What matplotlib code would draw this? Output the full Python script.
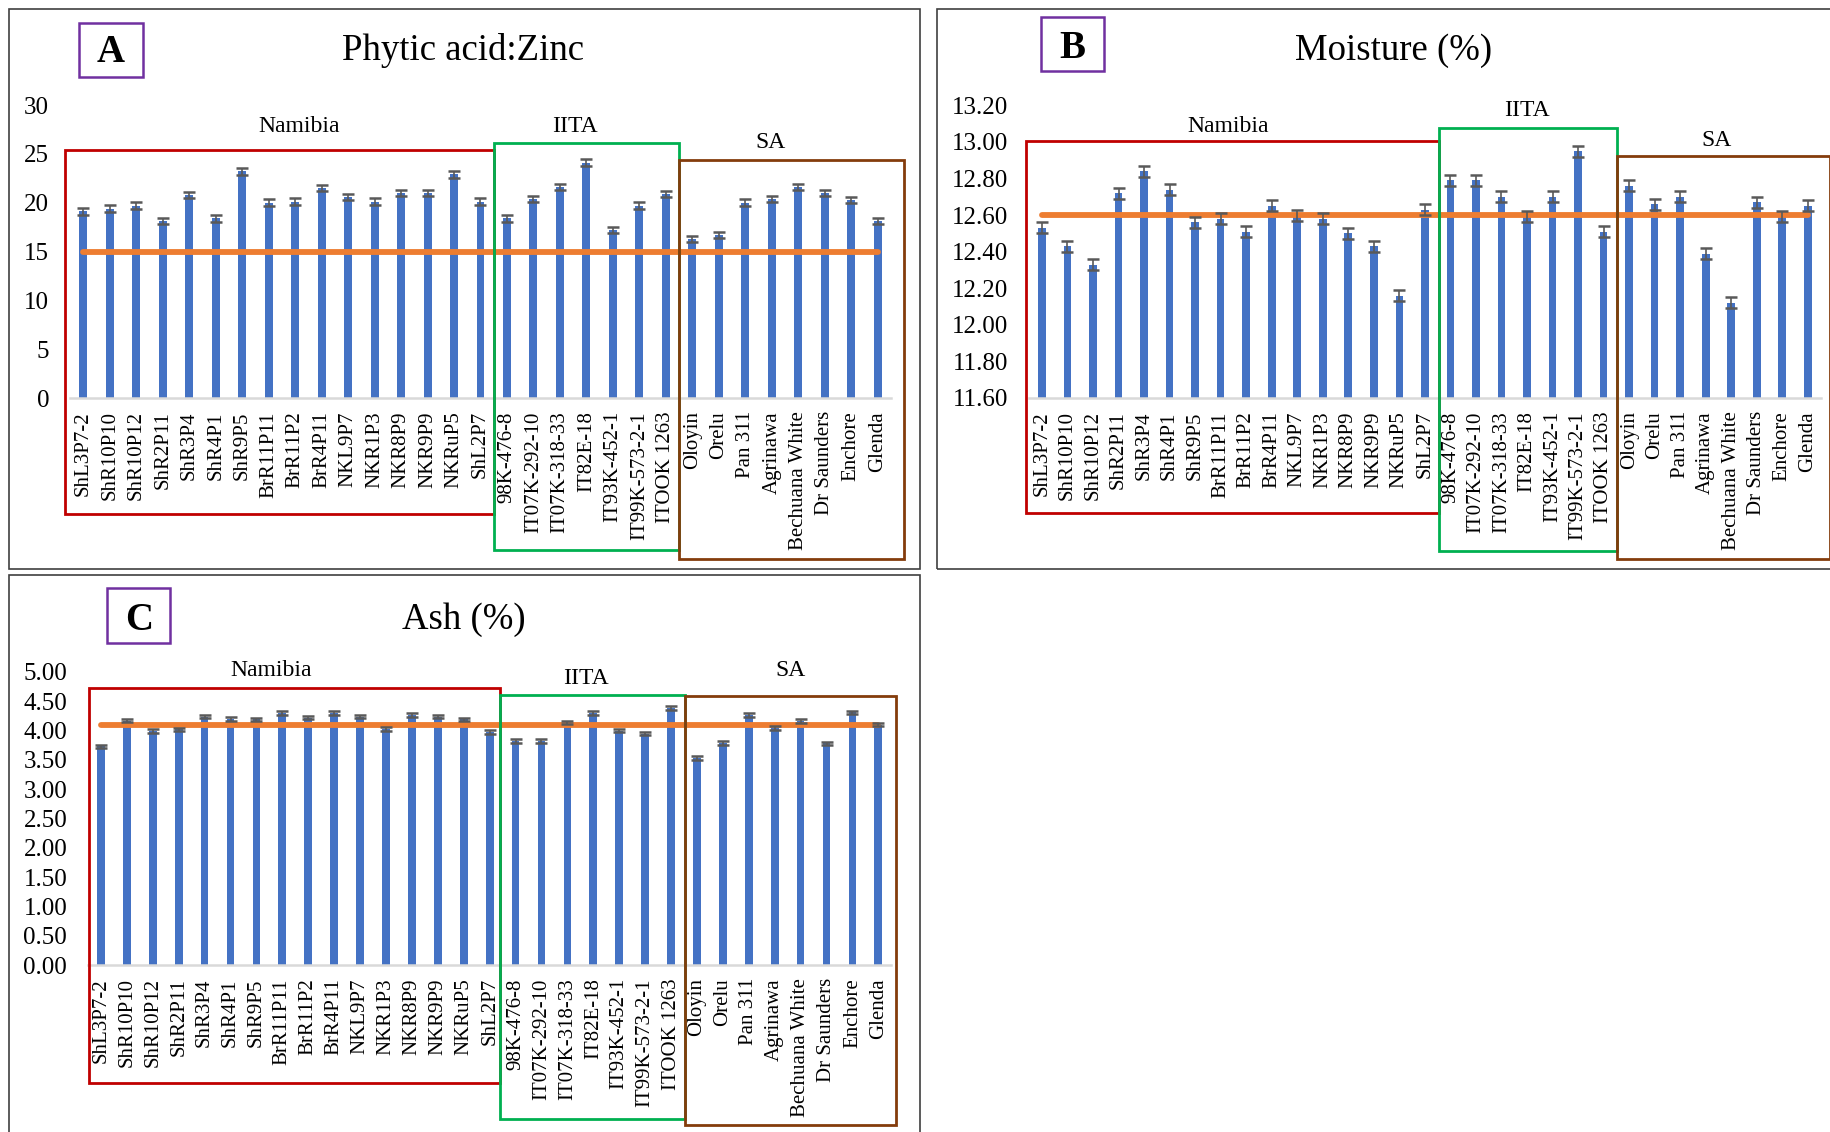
import matplotlib
matplotlib.use("Agg")
import matplotlib.pyplot as plt
from matplotlib.patches import Rectangle

plt.rcParams['font.family'] = ['Liberation Serif', 'DejaVu Serif']

# cultivars, grouped Namibia / IITA / SA
cultivars = ["ShL3P7-2", "ShR10P10", "ShR10P12", "ShR2P11", "ShR3P4", "ShR4P1", "ShR9P5",
             "BrR11P11", "BrR11P2", "BrR4P11", "NKL9P7", "NKR1P3", "NKR8P9", "NKR9P9",
             "NKRuP5", "ShL2P7",
             "98K-476-8", "IT07K-292-10", "IT07K-318-33", "IT82E-18", "IT93K-452-1",
             "IT99K-573-2-1", "ITOOK 1263",
             "Oloyin", "Orelu", "Pan 311", "Agrinawa", "Bechuana White", "Dr Saunders",
             "Enchore", "Glenda"]

phytate_zinc = [19.1, 19.4, 19.7, 18.1, 20.8, 18.4, 23.2, 20.0, 20.1, 21.5, 20.6, 20.1, 21.0, 21.0,
                22.9, 20.1, 18.4, 20.4, 21.6, 24.1, 17.2, 19.7, 20.9, 16.3, 16.7, 20.0, 20.4,
                21.6, 21.0, 20.3, 18.1]
phytate_zinc_err = 0.33
phytate_zinc_ref = 15.0

moisture = [12.53, 12.43, 12.33, 12.72, 12.84, 12.74, 12.56, 12.58, 12.51, 12.65, 12.60, 12.58,
            12.50, 12.43, 12.16, 12.63, 12.79, 12.79, 12.70, 12.59, 12.70, 12.95, 12.51, 12.76,
            12.66, 12.70, 12.39, 12.12, 12.67, 12.59, 12.65]
moisture_err = 0.03
moisture_ref = 12.60

ash = [3.73, 4.17, 3.99, 4.02, 4.24, 4.20, 4.19, 4.30, 4.22, 4.30, 4.24, 4.03, 4.27, 4.24, 4.19,
       3.98, 3.82, 3.82, 4.14, 4.30, 4.00, 3.95, 4.39, 3.53, 3.79, 4.27, 4.04, 4.16, 3.78, 4.31,
       4.10]
ash_err = 0.03
ash_ref = 4.10

W, H = 1831, 1132
fig = plt.figure(figsize=(W / 100, H / 100), dpi=100)


def fx(px):
    return px / W


def fy(py):
    return 1 - py / H


def box(x0, y0, x1, y1, color, lw):
    fig.add_artist(Rectangle((fx(x0), fy(y1)), fx(x1) - fx(x0), fy(y0) - fy(y1),
                             transform=fig.transFigure, fill=False, edgecolor=color,
                             linewidth=lw, clip_on=False))


def text(x, y, s, size, **kw):
    fig.text(fx(x), fy(y), s, fontsize=size, ha='center', va='center', **kw)


def panel(rect, values, err, ref, ylim, step, fmt):
    left, top, right, bottom = rect
    ax = fig.add_axes([fx(left), fy(bottom), fx(right - left), (bottom - top) / H])
    xs = list(range(len(cultivars)))
    ax.bar(xs, [v - ylim[0] for v in values], bottom=ylim[0], width=0.3, color='#4472C4', zorder=2)
    ax.plot([xs[0], xs[-1]], [ref, ref], color='#ED7D31', lw=4.2, solid_capstyle='round', zorder=3)
    ax.errorbar(xs, values, yerr=err, fmt='none', ecolor='#595959', elinewidth=1.2,
                capsize=4.2, capthick=1.8, zorder=4)
    ax.set_xlim(-0.5, len(cultivars) - 0.5)
    ax.set_ylim(*ylim)
    ticks = []
    t = ylim[0]
    while t <= ylim[1] + 1e-9:
        ticks.append(t)
        t += step
    ax.set_yticks(ticks)
    ax.set_yticklabels([fmt.format(v) for v in ticks])
    ax.set_xticks(xs)
    ax.set_xticklabels(cultivars, rotation=90)
    ax.tick_params(axis='y', length=0, pad=15, labelsize=18)
    ax.tick_params(axis='x', length=0, pad=9.5, labelsize=15)
    for s in ['top', 'right', 'left']:
        ax.spines[s].set_visible(False)
    ax.spines['bottom'].set_color('#D9D9D9')
    ax.spines['bottom'].set_linewidth(1.8)
    ax.patch.set_alpha(0)
    return ax


# A: Phytic acid:Zinc
panel((70, 105, 891, 398), phytate_zinc, phytate_zinc_err, phytate_zinc_ref, (0, 30), 5, "{:.0f}")
box(9, 9, 920, 569, '#404040', 1.2)
box(79, 23, 143, 77, '#7030A0', 1.8)
text(111, 53, "A", 28, fontweight='bold')
text(463, 51, "Phytic acid:Zinc", 26.5)
box(64.5, 150, 494, 514, '#C00000', 2)
box(494, 142.5, 679.5, 550, '#00B050', 2)
box(679.5, 160, 903.6, 559, '#843C0C', 2)
text(299, 127, "Namibia", 17)
text(575, 127, "IITA", 17)
text(771, 142, "SA", 17)

# B: Moisture
panel((1029.2, 105.4, 1820.6, 398), moisture, moisture_err, moisture_ref, (11.6, 13.2), 0.2, "{:.2f}")
box(937, 9, 1840, 569, '#404040', 1.2)
box(1041, 17, 1104, 71, '#7030A0', 1.8)
text(1072, 48, "B", 28, fontweight='bold')
text(1393.5, 51, "Moisture (%)", 26.5)
box(1026.3, 140.7, 1438.8, 513.3, '#C00000', 2)
box(1438.8, 128.3, 1617.2, 551.4, '#00B050', 2)
box(1617.2, 156.3, 1830, 558.7, '#843C0C', 2)
text(1228, 127, "Namibia", 17)
text(1527, 111, "IITA", 17)
text(1717, 140, "SA", 17)

# C: Ash
panel((88, 672, 891.3, 965), ash, ash_err, ash_ref, (0, 5), 0.5, "{:.2f}")
box(9, 575, 920, 1140, '#404040', 1.2)
box(107, 588, 170, 643, '#7030A0', 1.8)
text(139, 620, "C", 28, fontweight='bold')
text(463.5, 620, "Ash (%)", 26.5)
box(89.2, 687.6, 500.5, 1082.5, '#C00000', 2)
box(500.5, 695.4, 685.3, 1119, '#00B050', 2)
box(685.3, 696, 896, 1125, '#843C0C', 2)
text(271, 670, "Namibia", 17)
text(585.6, 679, "IITA", 17)
text(791, 670, "SA", 17)

fig.savefig("out.png", dpi=100)
